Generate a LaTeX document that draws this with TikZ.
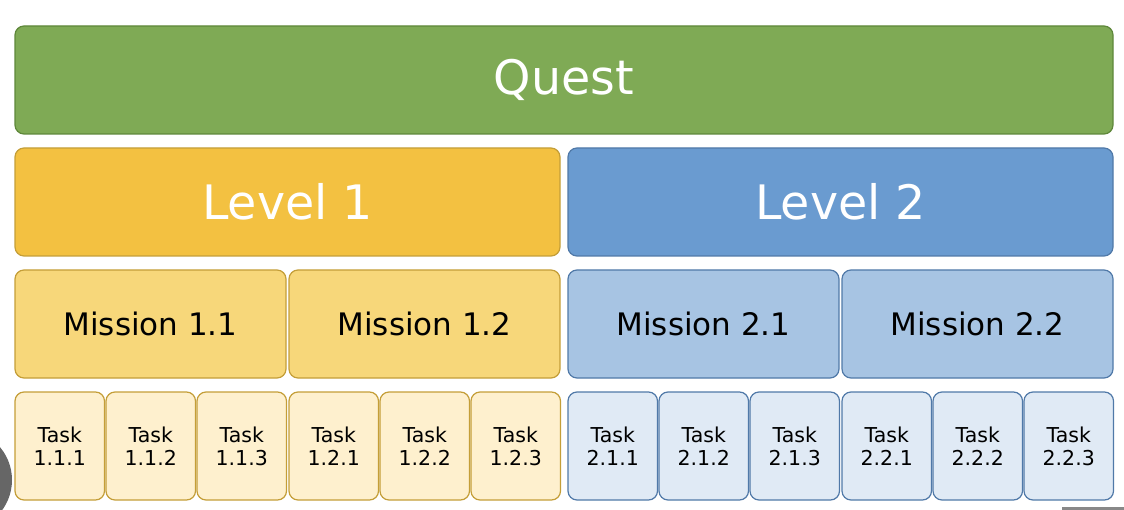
\documentclass[tikz,border=0pt]{standalone}
\usepackage{xcolor}
\usepackage{fontspec}
\setmainfont{DejaVu Sans}
\usetikzlibrary{positioning}
\definecolor{questfill}{HTML}{7FAA55}
\definecolor{questline}{HTML}{5E873A}
\definecolor{lvlAfill}{HTML}{F3C141}
\definecolor{lvlBfill}{HTML}{6A9BD0}
\definecolor{misAfill}{HTML}{F7D77A}
\definecolor{misBfill}{HTML}{A7C4E3}
\definecolor{taskAfill}{HTML}{FEF0CE}
\definecolor{taskBfill}{HTML}{E0EAF5}
\definecolor{yelline}{HTML}{C49E38}
\definecolor{bluline}{HTML}{5079A8}
\definecolor{dotgray}{HTML}{666666}
\definecolor{bargray}{HTML}{888888}
\tikzset{
  basebox/.style={rounded corners=9pt, line width=1.2pt, outer sep=0pt,
                  inner sep=2pt, align=center, minimum height=108pt},
  questbox/.style={basebox, draw=questline, fill=questfill, text=white,
                   font=\fontsize{47.5}{52}\selectfont},
  lvlAbox/.style={basebox, draw=yelline, fill=lvlAfill, text=white,
                  font=\fontsize{47.5}{52}\selectfont, minimum width=545pt},
  lvlBbox/.style={basebox, draw=bluline, fill=lvlBfill, text=white,
                  font=\fontsize{47.5}{52}\selectfont, minimum width=545pt},
  misAbox/.style={basebox, draw=yelline, fill=misAfill, text=black,
                  font=\fontsize{31}{35}\selectfont, minimum width=271pt},
  misBbox/.style={basebox, draw=bluline, fill=misBfill, text=black,
                  font=\fontsize{31}{35}\selectfont, minimum width=271pt},
  taskAbox/.style={basebox, draw=yelline, fill=taskAfill, text=black,
                   font=\fontsize{20.5}{23}\selectfont, minimum width=89.5pt},
  taskBbox/.style={basebox, draw=bluline, fill=taskBfill, text=black,
                   font=\fontsize{20.5}{23}\selectfont, minimum width=89.5pt},
}
\begin{document}
\begin{tikzpicture}
  \useasboundingbox (0pt,0pt) rectangle (1124pt,-510pt);
  \node[questbox, minimum width=1098pt, anchor=north west] (quest) at (15pt,-26pt) {Quest};
  \node[lvlAbox, below right=14pt and 0pt of quest.south west] (lvl1) {Level 1};
  \node[lvlBbox, right=8pt of lvl1] (lvl2) {Level 2};
  % missions
  \node[misAbox, below right=14pt and 0pt of lvl1.south west] (m11) {Mission 1.1};
  \node[misAbox, right=3pt of m11] (m12) {Mission 1.2};
  \node[misBbox, below right=14pt and 0pt of lvl2.south west] (m21) {Mission 2.1};
  \node[misBbox, right=3pt of m21] (m22) {Mission 2.2};
  % tasks
  \node[taskAbox, below right=14pt and 0pt of m11.south west] (t111) {Task\\1.1.1};
  \node[taskAbox, right=1.5pt of t111] (t112) {Task\\1.1.2};
  \node[taskAbox, right=1.5pt of t112] (t113) {Task\\1.1.3};
  \node[taskAbox, below right=14pt and 0pt of m12.south west] (t121) {Task\\1.2.1};
  \node[taskAbox, right=1.5pt of t121] (t122) {Task\\1.2.2};
  \node[taskAbox, right=1.5pt of t122] (t123) {Task\\1.2.3};
  \node[taskBbox, below right=14pt and 0pt of m21.south west] (t211) {Task\\2.1.1};
  \node[taskBbox, right=1.5pt of t211] (t212) {Task\\2.1.2};
  \node[taskBbox, right=1.5pt of t212] (t213) {Task\\2.1.3};
  \node[taskBbox, below right=14pt and 0pt of m22.south west] (t221) {Task\\2.2.1};
  \node[taskBbox, right=1.5pt of t221] (t222) {Task\\2.2.2};
  \node[taskBbox, right=1.5pt of t222] (t223) {Task\\2.2.3};
  % screen leftovers
  \fill[dotgray] (-39pt,-480pt) circle (51pt);
  \fill[bargray] (1062pt,-507pt) rectangle (1124pt,-510pt);
\end{tikzpicture}
\end{document}
